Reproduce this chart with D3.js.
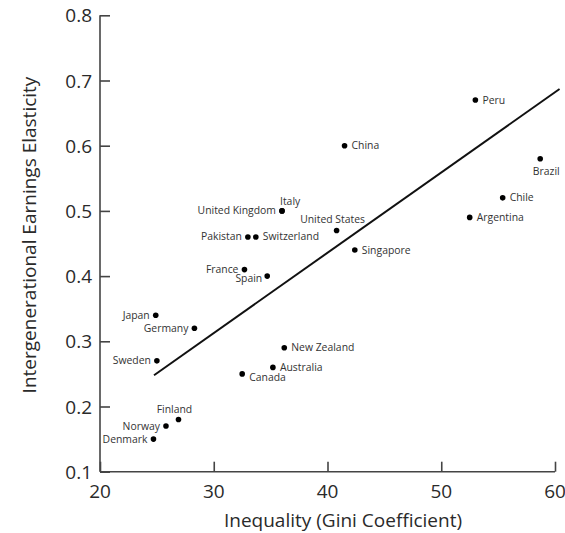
<!DOCTYPE html>
<html>
<head>
<script src="https://d3js.org/d3.v7.min.js"></script>
<style>
  body { margin: 0; background: #fff; }
  svg text { font-family: "Open Sans", "Noto Sans", sans-serif; }
  .tick-label { font-size: 19px; fill: #2a2a2a; }
  .axis-title { font-size: 19px; fill: #2a2a2a; }
  .pt-label { font-size: 10.4px; fill: #333; }
</style>
</head>
<body>
<script>
// data
var countries = ["Peru", "China", "Brazil", "Chile", "Argentina", "Italy", "United Kingdom",
  "United States", "Singapore", "Pakistan", "Switzerland", "France", "Spain", "Japan",
  "Germany", "Sweden", "New Zealand", "Australia", "Canada", "Finland", "Norway", "Denmark"];
var gini = [53.0, 41.5, 58.7, 55.4, 52.5, 36.0, 36.0, 40.8, 42.4, 33.0, 33.7, 32.7, 34.7,
  24.9, 28.3, 25.0, 36.2, 35.2, 32.5, 26.9, 25.8, 24.7];
var elasticity = [0.67, 0.60, 0.58, 0.52, 0.49, 0.50, 0.50, 0.47, 0.44, 0.46, 0.46, 0.41,
  0.40, 0.34, 0.32, 0.27, 0.29, 0.26, 0.25, 0.18, 0.17, 0.15];
// where each label sits relative to its dot
var labelSide = ["right", "right", "below", "right", "right", "aboveright", "left",
  "aboveleft", "right", "left", "right", "left", "belowleft", "left",
  "left", "left", "right", "right", "belowright", "aboveleft", "left", "left"];
var xTicks = [20, 30, 40, 50, 60];
var yTicks = [0.1, 0.2, 0.3, 0.4, 0.5, 0.6, 0.7, 0.8];
var trendX = [24.75, 60.4];
var trendY = [0.248, 0.687];

var W = 565, H = 533;
var svg = d3.select("body").append("svg")
  .attr("width", W)
  .attr("height", H);

var x = d3.scaleLinear().domain([20, 60]).range([100, 555]);
var y = d3.scaleLinear().domain([0.1, 0.8]).range([471.7, 15.3]);

// axes
var xAxis = svg.append("g").attr("transform", "translate(0," + y(0.1) + ")")
  .call(d3.axisTop(x).tickValues(xTicks).tickSize(10).tickFormat(""));
var yAxis = svg.append("g").attr("transform", "translate(" + x(20) + ",0)")
  .call(d3.axisRight(y).tickValues(yTicks).tickSize(10).tickFormat(""));
[xAxis, yAxis].forEach(function(a) {
  a.select(".domain").attr("stroke", "#444").attr("stroke-width", 1.6);
  a.selectAll(".tick line").attr("stroke", "#444").attr("stroke-width", 1.6);
});
// y axis line ends at 0.8 tick, x axis at 60 tick
yAxis.select(".domain").attr("d", "M0," + y(0.8) + "V" + y(0.1));
xAxis.select(".domain").attr("d", "M" + x(20) + ",0H" + x(60));

svg.selectAll(".xlab").data(xTicks).enter().append("text")
  .attr("class", "tick-label")
  .attr("x", function(d) { return x(d); })
  .attr("y", y(0.1) + 26)
  .attr("text-anchor", "middle")
  .text(function(d) { return d; });

svg.selectAll(".ylab").data(yTicks).enter().append("text")
  .attr("class", "tick-label")
  .attr("x", x(20) - 8)
  .attr("y", function(d) { return y(d) + 7; })
  .attr("text-anchor", "end")
  .text(function(d) { return d.toFixed(1); });

svg.append("text").attr("class", "axis-title")
  .attr("x", 343).attr("y", 527)
  .attr("text-anchor", "middle")
  .text("Inequality (Gini Coefficient)");

svg.append("text").attr("class", "axis-title")
  .attr("transform", "translate(36,235) rotate(-90)")
  .attr("text-anchor", "middle")
  .text("Intergenerational Earnings Elasticity");

// trend line
svg.append("line")
  .attr("x1", x(trendX[0])).attr("y1", y(trendY[0]))
  .attr("x2", x(trendX[1])).attr("y2", y(trendY[1]))
  .attr("stroke", "#111").attr("stroke-width", 2);

var pts = countries.map(function(c, i) {
  return { name: c, g: gini[i], e: elasticity[i], side: labelSide[i] };
});

svg.selectAll(".dot").data(pts).enter().append("circle")
  .attr("cx", function(d) { return x(d.g); })
  .attr("cy", function(d) { return y(d.e); })
  .attr("r", 2.8)
  .attr("fill", "#000");

var offs = {
  right: [7, 3.5, "start"],
  left: [-6, 3.5, "end"],
  below: [6, 16, "middle"],
  aboveright: [-2, -6, "start"],
  aboveleft: [-4, -7, "middle"],
  belowleft: [-5, 6, "end"],
  belowright: [7, 7, "start"]
};

svg.selectAll(".pt-label").data(pts).enter().append("text")
  .attr("class", "pt-label")
  .attr("x", function(d) { return x(d.g) + offs[d.side][0]; })
  .attr("y", function(d) { return y(d.e) + offs[d.side][1]; })
  .attr("text-anchor", function(d) { return offs[d.side][2]; })
  .text(function(d) { return d.name; });
</script>
</body>
</html>
